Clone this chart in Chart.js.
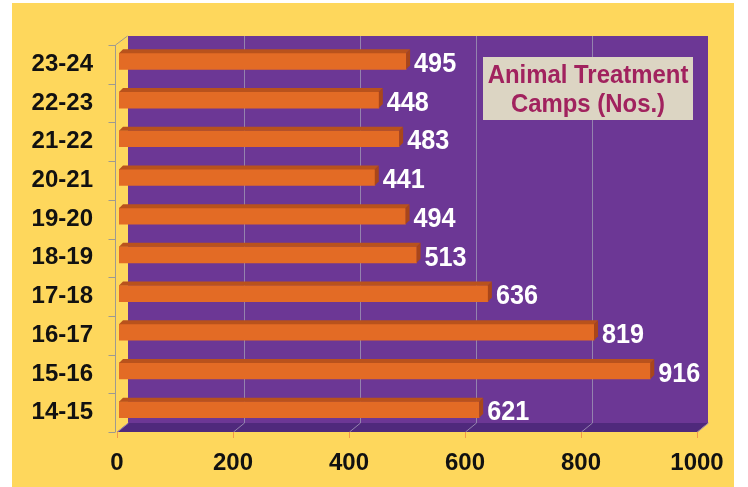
<!DOCTYPE html>
<html>
<head>
<meta charset="utf-8">
<script src="https://cdn.jsdelivr.net/npm/chart.js@4"></script>
<style>
  html, body { margin: 0; padding: 0; background: #ffffff; }
  #wrap { width: 748px; height: 487px; }
</style>
</head>
<body>
<div id="wrap"><canvas id="c" width="748" height="487"></canvas></div>
<script>
const categories = ['23-24', '22-23', '21-22', '20-21', '19-20', '18-19', '17-18', '16-17', '15-16', '14-15'];
const campValues = [495, 448, 483, 441, 494, 513, 636, 819, 916, 621];
const xTickValues = [0, 200, 400, 600, 800, 1000];
const titleLines = ['Animal Treatment', 'Camps (Nos.)'];

const COLORS = {
  bg: '#FED75C',
  wall: '#6C3795',
  floor: '#4F297C',
  grid: '#9483AE',
  axis: '#9E9A90',
  xTick: '#F2994A',
  bar: '#E36B25',
  barTop: '#B9521C',
  barSide: '#A9461A',
  titleBox: '#DCD5C3',
  titleText: '#A1225E'
};
const DEPTH_X = 11, DEPTH_Y = -9;
const BAR_SHIFT_X = 2, BAR_SHIFT_Y = -3, BAR_D = 4;

function scaledText(ctx, text, x, y, sx) {
  ctx.save();
  ctx.translate(x, y);
  ctx.scale(sx, 1);
  ctx.fillText(text, 0, 0);
  ctx.restore();
}

const decor = {
  id: 'decor',
  beforeDraw(chart) {
    const ctx = chart.ctx;
    const a = chart.chartArea;
    const xs = chart.scales.x;
    ctx.save();
    ctx.fillStyle = COLORS.bg;
    ctx.fillRect(12, 3, 722, 484);
    const bl = a.left + DEPTH_X, br = a.right + DEPTH_X;
    const bt = a.top + DEPTH_Y, bb = a.bottom + DEPTH_Y;
    ctx.fillStyle = COLORS.wall;
    ctx.fillRect(bl, bt, br - bl, bb - bt);
    ctx.fillStyle = COLORS.floor;
    ctx.beginPath();
    ctx.moveTo(a.left, a.bottom);
    ctx.lineTo(a.right, a.bottom);
    ctx.lineTo(br, bb);
    ctx.lineTo(bl, bb);
    ctx.closePath();
    ctx.fill();
    ctx.lineWidth = 1;
    xTickValues.forEach((v, i) => {
      const px = Math.round(xs.getPixelForValue(v)) + 0.5;
      ctx.strokeStyle = COLORS.grid;
      ctx.beginPath();
      ctx.moveTo(px, a.bottom);
      ctx.lineTo(px + DEPTH_X, bb);
      if (i > 0 && i < xTickValues.length - 1) ctx.lineTo(px + DEPTH_X, bt);
      ctx.stroke();
      ctx.strokeStyle = COLORS.xTick;
      ctx.beginPath();
      ctx.moveTo(px, a.bottom);
      ctx.lineTo(px, a.bottom + 6);
      ctx.stroke();
    });
    ctx.strokeStyle = COLORS.axis;
    const ax = a.left - 1.5;
    ctx.beginPath();
    ctx.moveTo(ax, a.bottom);
    ctx.lineTo(ax, a.top);
    ctx.lineTo(ax + DEPTH_X + 1, bt);
    ctx.stroke();
    const step = (a.bottom - a.top) / categories.length;
    for (let i = 0; i <= categories.length; i++) {
      const py = Math.round(a.top + i * step) + 0.5;
      ctx.beginPath();
      ctx.moveTo(ax - 7, py);
      ctx.lineTo(ax, py);
      ctx.stroke();
    }
    ctx.restore();
  },
  beforeDatasetsDraw(chart) {
    chart.ctx.save();
    chart.ctx.translate(BAR_SHIFT_X, BAR_SHIFT_Y);
  },
  afterDatasetsDraw(chart) {
    const ctx = chart.ctx;
    const meta = chart.getDatasetMeta(0);
    meta.data.forEach((bar, i) => {
      const x0 = bar.base, x1 = bar.x;
      const top = bar.y - bar.height / 2, bot = bar.y + bar.height / 2;
      ctx.fillStyle = COLORS.barTop;
      ctx.beginPath();
      ctx.moveTo(x0, top);
      ctx.lineTo(x1, top);
      ctx.lineTo(x1 + BAR_D, top - BAR_D);
      ctx.lineTo(x0 + BAR_D, top - BAR_D);
      ctx.closePath();
      ctx.fill();
      ctx.fillStyle = COLORS.barSide;
      ctx.beginPath();
      ctx.moveTo(x1, top);
      ctx.lineTo(x1 + BAR_D, top - BAR_D);
      ctx.lineTo(x1 + BAR_D, bot - BAR_D);
      ctx.lineTo(x1, bot);
      ctx.closePath();
      ctx.fill();
      ctx.fillStyle = '#FFFFFF';
      ctx.font = 'bold 28px "Liberation Sans", Arial, sans-serif';
      ctx.textAlign = 'left';
      ctx.textBaseline = 'middle';
      scaledText(ctx, String(campValues[i]), x1 + 8, bar.y + 3, 0.9);
    });
    ctx.restore();
  },
  afterDraw(chart) {
    const ctx = chart.ctx;
    ctx.save();
    ctx.fillStyle = COLORS.titleBox;
    ctx.fillRect(483, 57, 210, 63);
    ctx.fillStyle = COLORS.titleText;
    ctx.font = 'bold 26px "Liberation Sans", Arial, sans-serif';
    ctx.textAlign = 'center';
    ctx.textBaseline = 'middle';
    scaledText(ctx, titleLines[0], 588, 76, 0.92);
    scaledText(ctx, titleLines[1], 588, 105, 0.92);
    ctx.restore();
  }
};

new Chart(document.getElementById('c'), {
  type: 'bar',
  data: {
    labels: categories,
    datasets: [{
      data: campValues,
      backgroundColor: COLORS.bar,
      borderWidth: 0,
      barThickness: 16
    }]
  },
  options: {
    indexAxis: 'y',
    responsive: false,
    animation: false,
    devicePixelRatio: 1,
    layout: { padding: { left: 0, top: 45, right: 51, bottom: 0 } },
    plugins: { legend: { display: false }, tooltip: { enabled: false }, title: { display: false } },
    scales: {
      x: {
        min: 0, max: 1000,
        afterBuildTicks(scale) { scale.ticks = xTickValues.map(v => ({ value: v })); },
        afterFit(scale) { scale.height = 55; },
        grid: { display: false, drawTicks: false },
        border: { display: false },
        ticks: {
          padding: 17,
          color: '#111111',
          font: { family: '"Liberation Sans", Arial, sans-serif', size: 24, weight: 'bold' },
          maxRotation: 0,
          callback: (v) => String(v)
        }
      },
      y: {
        afterFit(scale) { scale.width = 117; },
        grid: { display: false, drawTicks: false },
        border: { display: false },
        ticks: {
          padding: 24,
          color: '#111111',
          font: { family: '"Liberation Sans", Arial, sans-serif', size: 24, weight: 'bold' }
        }
      }
    }
  },
  plugins: [decor]
});
</script>
</body>
</html>
